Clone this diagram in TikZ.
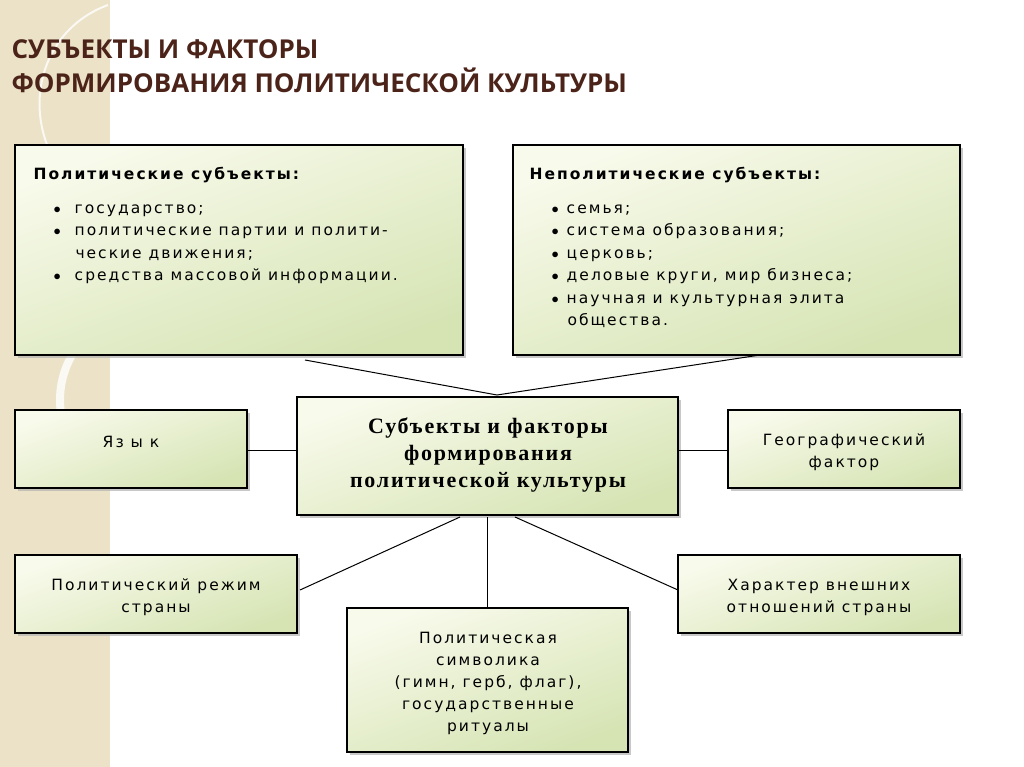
\documentclass[tikz,border=0pt]{standalone}
\usepackage{fontspec}
\setmainfont{Liberation Serif}
\newfontfamily\cfont[LetterSpace=8]{Liberation Serif}
\newfontfamily\vfont[LetterSpace=13]{DejaVu Sans}
\newfontfamily\tfont{Open Sans}
\usetikzlibrary{shadows}
\definecolor{titlec}{RGB}{75,35,25}
\definecolor{tan}{RGB}{236,226,200}
\definecolor{boxa}{RGB}{248,250,235}
\definecolor{boxb}{RGB}{214,228,180}
\tikzset{
 gbox/.style={draw=black,line width=1.6pt,top color=boxa,bottom color=boxb,shading angle=20,
   drop shadow={shadow xshift=3pt,shadow yshift=-3pt,fill=gray!60,opacity=0.7}},
 lab/.style={font=\vfont\fontsize{15.5}{22}\selectfont,align=center},
 conn/.style={draw=black,line width=1pt}
}
\begin{document}
\begin{tikzpicture}[x=1pt,y=-1pt]
\useasboundingbox (0,0) rectangle (1024,767);
\fill[white] (0,0) rectangle (1024,767);
\fill[tan] (0,0) rectangle (110,767);
\begin{scope}
\clip (0,0) rectangle (110,767);
\draw[white!80!tan,line width=2pt] (108,5) .. controls (40,30) and (20,110) .. (60,170);
\draw[white!80!tan,line width=8pt] (150,400) circle (90);
\end{scope}
\node[font=\tfont\bfseries\fontsize{26}{34}\selectfont,text=titlec,align=left,anchor=north west] (title) at (8,36) {СУБЪЕКТЫ И ФАКТОРЫ\\ФОРМИРОВАНИЯ ПОЛИТИЧЕСКОЙ КУЛЬТУРЫ};
% boxes
\path[gbox] (15,145) rectangle (463,355);
\path[gbox] (513,145) rectangle (960,355);
\path[gbox] (297,397) rectangle (678,515);
\path[gbox] (15,410) rectangle (247,488);
\path[gbox] (728,410) rectangle (960,488);
\path[gbox] (15,555) rectangle (297,633);
\path[gbox] (678,555) rectangle (960,633);
\path[gbox] (347,608) rectangle (628,752);
\coordinate (p1) at (305,360); \coordinate (c0) at (497,395); \coordinate (n1) at (760,355);
\draw[conn] (p1) -- (c0) -- (n1);
\coordinate (cl) at (297,450); \coordinate (ll) at (247,450);
\coordinate (cr) at (678,450); \coordinate (rr) at (728,450);
\draw[conn] (ll) -- (cl); \draw[conn] (cr) -- (rr);
\coordinate (b1) at (460,517); \coordinate (b2) at (487,517); \coordinate (b3) at (515,517);
\coordinate (e1) at (300,590); \coordinate (e2) at (487,608); \coordinate (e3) at (678,590);
\draw[conn] (b1)--(e1); \draw[conn] (b2)--(e2); \draw[conn] (b3)--(e3);
% texts
\node[anchor=north west,font=\vfont\bfseries\fontsize{15.5}{21}\selectfont] (pt) at (30,164) {Политические субъекты:};
\node[anchor=north west,align=left,font=\vfont\fontsize{15.5}{22.5}\selectfont] (pl) at (50,201)
 {$\bullet$\hspace{14pt}государство;\\$\bullet$\hspace{14pt}политические партии и полити-\\\hspace{22pt}ческие движения;\\$\bullet$\hspace{14pt}средства массовой информации.};
\node[anchor=north west,font=\vfont\bfseries\fontsize{15.5}{21}\selectfont] (nt) at (526,164) {Неполитические субъекты:};
\node[anchor=north west,align=left,font=\vfont\fontsize{15.5}{22.5}\selectfont] (nl) at (548,201)
 {$\bullet$\hspace{8pt}семья;\\$\bullet$\hspace{8pt}система образования;\\$\bullet$\hspace{8pt}церковь;\\$\bullet$\hspace{8pt}деловые круги, мир бизнеса;\\$\bullet$\hspace{8pt}научная и культурная элита\\\hspace{16pt}общества.};
\node[font=\cfont\bfseries\fontsize{22}{27}\selectfont,align=center] (ct) at (488,455) {Субъекты и факторы\\формирования\\политической культуры};
\node[lab] (t1) at (131,442) {Яз ы к};
\node[lab] (t2) at (844,452) {Географический\\фактор};
\node[lab] (t3) at (156,597) {Политический режим\\страны};
\node[lab] (t4) at (819,597) {Характер внешних\\отношений страны};
\node[lab] (t5) at (488,683) {Политическая\\символика\\(гимн, герб, флаг),\\государственные\\ритуалы};
\end{tikzpicture}
\end{document}
